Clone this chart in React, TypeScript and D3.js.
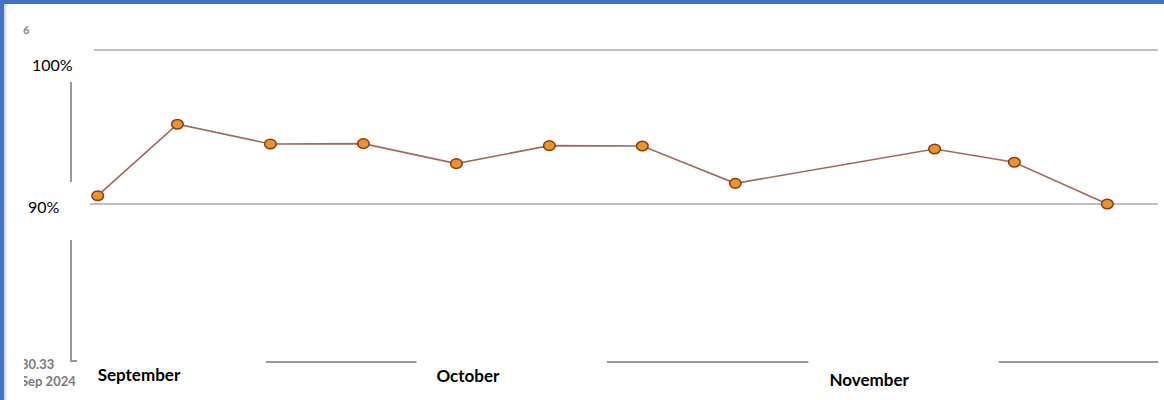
import React from "react";
import * as d3 from "d3";

// ---- Data ----
const dates: string[] = [
  "2024-09-02T00:00", "2024-09-08T00:00", "2024-09-15T00:00", "2024-09-22T00:00",
  "2024-09-29T00:00", "2024-10-06T00:00", "2024-10-13T00:00", "2024-10-20T00:00",
  "2024-11-04T00:00", "2024-11-10T00:00", "2024-11-17T00:00",
];
const values: number[] = [90.54, 95.18, 93.9, 93.92, 92.62, 93.79, 93.77, 91.34, 93.57, 92.71, 90.0];
const yTicks: number[] = [100, 90];
const tickLabels: string[] = ["100%", "90%"];
const monthLabels: string[] = ["September", "October", "November"];
const monthLabelDates: string[] = ["2024-09-02T00:00", "2024-09-27T12:00", "2024-10-27T02:00"];
const bottomSegments: [string, string][] = [
  ["2024-09-14T16:00", "2024-09-26T00:00"],
  ["2024-10-10T08:00", "2024-10-25T12:00"],
  ["2024-11-08T20:00", "2024-11-20T20:00"],
];

const W = 1164;
const H = 400;

export default function App() {
  const parse = (s: string) => new Date(s + ":00Z");
  const x = d3
    .scaleUtc()
    .domain([parse(dates[0]), parse(dates[dates.length - 1])])
    .range([97.7, 1107.3]);
  const y = d3.scaleLinear().domain([90, 100]).range([204, 50]);

  const pts = dates.map((d, i) => [x(parse(d)), y(values[i])] as [number, number]);
  const line = d3.line<[number, number]>().x((p) => p[0]).y((p) => p[1]);

  const gridLeft = [90, 94];
  const gridColor = "#ababab";

  return (
    <svg
      width={W}
      height={H}
      style={{ position: "fixed", top: 0, left: 0, background: "#fff" }}
    >
      <defs>
        <clipPath id="leftclip">
          <rect x={24} y={340} width={54} height={60} />
        </clipPath>
        <linearGradient id="shadow" x1="0" x2="1" y1="0" y2="0">
          <stop offset="0" stopColor="#c8c8c8" />
          <stop offset="1" stopColor="#ffffff" stopOpacity={0} />
        </linearGradient>
      </defs>
      {/* border */}
      <rect x={0} y={0} width={W} height={H} fill="#fff" />
      <rect x={4} y={4} width={5} height={H} fill="url(#shadow)" />
      <rect x={0} y={0} width={W} height={4} fill="#4472C4" />
      <rect x={0} y={0} width={4} height={H} fill="#4472C4" />

      {/* small artefact text */}
      <text x={23} y={34} fontFamily="Lato, sans-serif" fontSize={11} fill="#888" fontWeight={700}>
        6
      </text>

      {/* gridlines */}
      {yTicks.map((t, i) => (
        <line
          key={t}
          x1={gridLeft[i === 0 ? 1 : 0]}
          x2={1158}
          y1={y(t)}
          y2={y(t)}
          stroke={gridColor}
          strokeWidth={1.5}
        />
      ))}
      {/* tick labels */}
      {yTicks.map((t, i) => (
        <text
          key={"l" + t}
          x={i === 0 ? 32 : 28}
          y={y(t) + (i === 0 ? 21 : 9)}
          fontFamily="Lato, sans-serif"
          fontSize={16}
          fill="#000"
        >
          {tickLabels[i]}
        </text>
      ))}

      {/* vertical axis fragments */}
      <line x1={71} x2={71} y1={82} y2={182} stroke="#999" strokeWidth={2} />
      <path d="M71,240 V361 H77" fill="none" stroke="#999" strokeWidth={2} />

      {/* bottom segments */}
      {bottomSegments.map(([a, b], i) => (
        <line
          key={"b" + i}
          x1={x(parse(a))}
          x2={x(parse(b))}
          y1={362}
          y2={362}
          stroke="#9a9a9a"
          strokeWidth={2}
        />
      ))}

      {/* left clipped labels */}
      <g clipPath="url(#leftclip)" fontFamily="Lato, sans-serif" fontSize={13} fill="#7a7a7a" fontWeight={700}>
        <text x={21} y={369}>30.33</text>
        <text x={21} y={386}>Sep 2024</text>
      </g>

      {/* month labels */}
      {monthLabels.map((m, i) => (
        <text
          key={m}
          x={x(parse(monthLabelDates[i]))}
          y={[381, 382, 386][i]}
          fontFamily="Lato, sans-serif"
          fontWeight={700}
          fontSize={17}
          fill="#000"
        >
          {m}
        </text>
      ))}

      {/* series line */}
      <path d={line(pts) || ""} fill="none" stroke="#9c6b5c" strokeWidth={1.6} />
      {pts.map((p, i) => (
        <ellipse
          key={"p" + i}
          cx={p[0]}
          cy={p[1]}
          rx={5.8}
          ry={4.8}
          fill="#EE922C"
          stroke="#8a3a12"
          strokeWidth={1.5}
        />
      ))}
    </svg>
  );
}
